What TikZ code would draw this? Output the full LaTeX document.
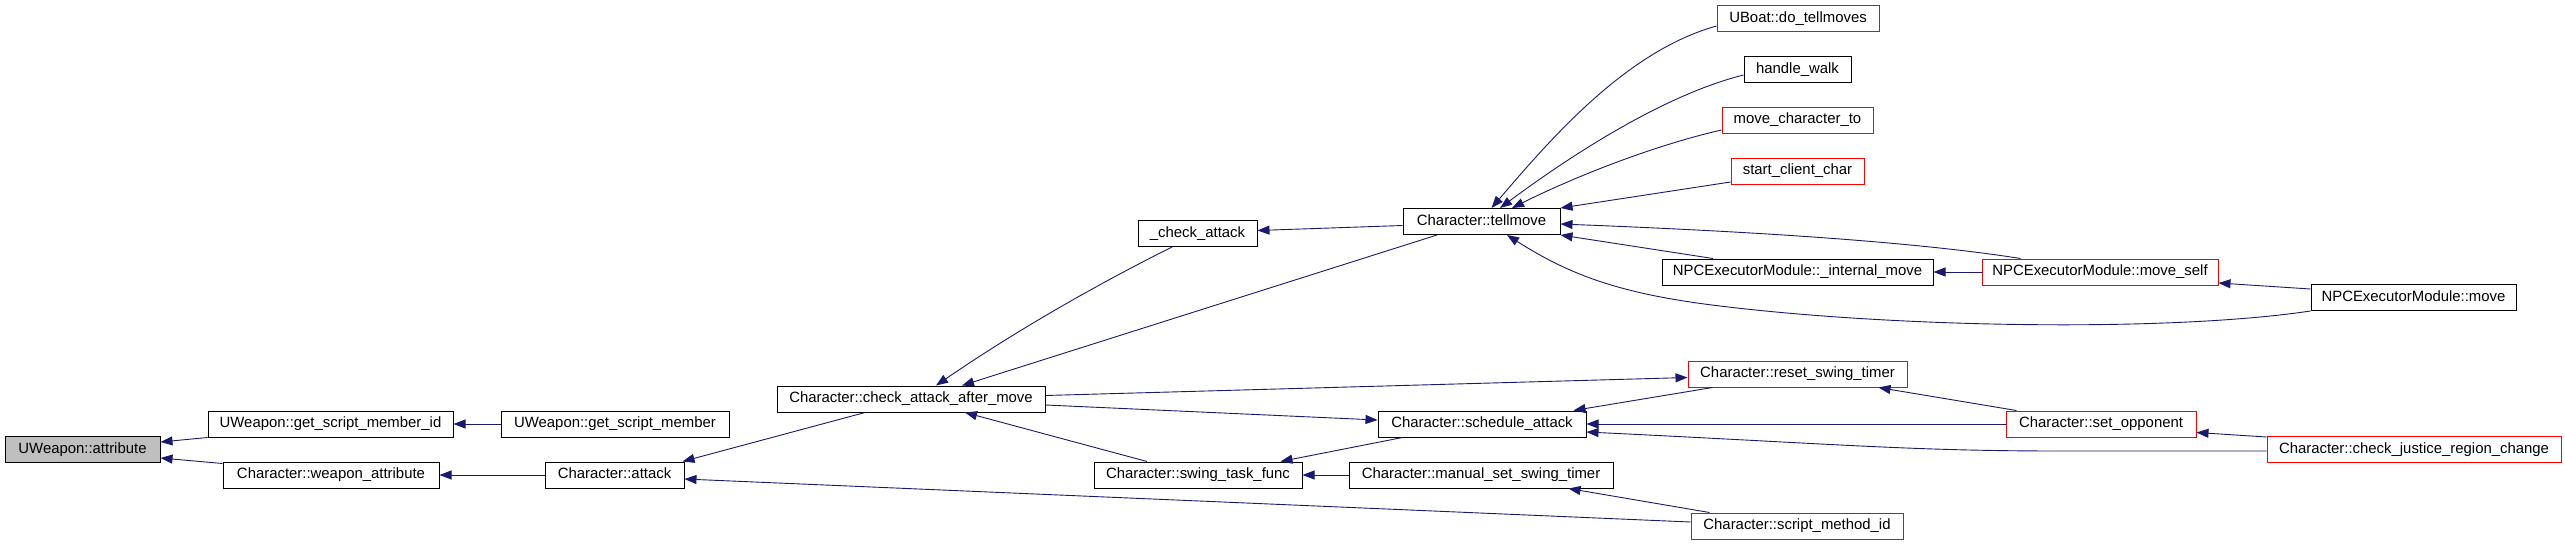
\documentclass[tikz,border=0pt]{standalone}
\usepackage{fontspec}
\setmainfont{Liberation Sans}
\usetikzlibrary{arrows.meta}
\definecolor{edgeblue}{HTML}{191970}
\definecolor{nodegray}{HTML}{BFBFBF}
\begin{document}
\begin{tikzpicture}[x=1pt,y=-1pt,
  nd/.style={draw=black, line width=1pt, minimum height=26pt, inner sep=0pt,
    font=\fontsize{14.9pt}{17pt}\selectfont, text height=10.5pt, text depth=3.2pt},
  rednd/.style={nd, draw=red},
  rootnd/.style={nd, fill=nodegray},
  calls/.style={draw=edgeblue, line width=0.9pt, {Triangle[length=12pt,width=9pt]}-}]
\path[use as bounding box] (0,0) rectangle (2565,544);
\fill[white] (0,0) rectangle (2565,544);
% nodes
\node[rootnd, minimum width=155pt] (attr) at (82.5,449.5) {UWeapon::attribute};
\node[nd, minimum width=245pt] (gsmid) at (330.5,424) {UWeapon::get\_script\_member\_id};
\node[nd, minimum width=228pt] (gsm) at (615,424) {UWeapon::get\_script\_member};
\node[nd, minimum width=216pt] (wattr) at (331,475) {Character::weapon\_attribute};
\node[nd, minimum width=139pt] (attack) at (614.5,475) {Character::attack};
\node[nd, minimum width=268pt] (cam) at (911,399) {Character::check\_attack\_after\_move};
\node[nd, minimum width=119pt] (chk) at (1197.5,233.5) {\_check\_attack};
\node[nd, minimum width=157pt] (tell) at (1481.5,221.5) {Character::tellmove};
\node[nd, minimum width=208pt] (sched) at (1482,424) {Character::schedule\_attack};
\node[nd, minimum width=208pt] (swing) at (1198,475) {Character::swing\_task\_func};
\node[nd, minimum width=264pt] (manual) at (1481,475) {Character::manual\_set\_swing\_timer};
\node[rednd, minimum width=162pt] (uboat) at (1798,18.5) {UBoat::do\_tellmoves};
\node[nd, minimum width=107pt] (walk) at (1797.5,69.5) {handle\_walk};
\node[rednd, minimum width=151pt] (mct) at (1797.5,120) {move\_character\_to};
\node[rednd, minimum width=133pt] (scc) at (1797.5,171) {start\_client\_char};
\node[nd, minimum width=271pt] (imove) at (1797.5,272) {NPCExecutorModule::\_internal\_move};
\node[rednd, minimum width=236pt] (mself) at (2100,272) {NPCExecutorModule::move\_self};
\node[nd, minimum width=205pt] (npcmove) at (2413.5,297.5) {NPCExecutorModule::move};
\node[rednd, minimum width=219pt] (reset) at (1797.5,374) {Character::reset\_swing\_timer};
\node[rednd, minimum width=212pt] (smid) at (1797,526) {Character::script\_method\_id};
\node[rednd, minimum width=190pt] (setopp) at (2101,424) {Character::set\_opponent};
\node[rednd, minimum width=294pt] (cjrc) at (2414,449.5) {Character::check\_justice\_region\_change};
% edges
\draw[calls] ([yshift=-6pt]attr.north east) -- (gsmid.south west);
\draw[calls] ([yshift=5pt]attr.south east) -- ([yshift=-2pt]wattr.north west);
\draw[calls] (gsmid.east) -- (gsm.west);
\draw[calls] (wattr.east) -- (attack.west);
\draw[calls] ([xshift=-2pt]attack.north east) -- ([xshift=-46pt]cam.south);
\draw[calls] ([yshift=-4pt]attack.east) -- ([yshift=4pt]smid.west);
\draw[calls] ([xshift=25pt]cam.north) .. controls +(76,-52) and +(-82,41) .. ([xshift=-25.5pt]chk.south);
\draw[calls] ([xshift=51pt]cam.north) -- ([xshift=-44.5pt]tell.south);
\draw[calls] ([xshift=54pt]cam.south) -- ([xshift=-51pt]swing.north);
\draw[calls] ([yshift=-3.5pt]reset.west) -- ([yshift=3.5pt]cam.east);
\draw[calls] ([yshift=4pt]sched.west) -- ([yshift=-6pt]cam.east);
\draw[calls] ([yshift=3pt]chk.east) -- ([yshift=-4pt]tell.west);
\draw[calls] ([xshift=10pt]tell.north) .. controls +(60,-70) and +(-90,25) .. ([yshift=-7.5pt]uboat.west);
\draw[calls] ([xshift=18.5pt]tell.north) .. controls +(70,-52) and +(-80,20) .. ([yshift=-5.5pt]walk.west);
\draw[calls] ([xshift=30.5pt]tell.north) .. controls +(60,-30) and +(-70,16) .. ([yshift=-10pt]mct.west);
\draw[calls] (tell.north east) -- ([yshift=-11pt]scc.west);
\draw[calls] ([yshift=-2.5pt]tell.east) .. controls +(154,6) and +(-120,-19) .. ([xshift=39pt]mself.north west);
\draw[calls] (tell.south east) -- ([xshift=-84.5pt]imove.north);
\draw[calls] ([xshift=25.5pt]tell.south) .. controls (1570,275) and (1620,294) .. (1720,306)
  .. controls (1900,328) and (2170,332) .. (npcmove.south west);
\draw[calls] (imove.east) -- (mself.west);
\draw[calls] ([yshift=-11pt]mself.east) -- ([yshift=8.5pt]npcmove.west);
\draw[calls] ([xshift=-29pt]reset.south east) -- ([xshift=11pt]setopp.north west);
\draw[calls] ([xshift=-13pt]sched.north east) -- ([xshift=25pt]reset.south west);
\draw[calls] (sched.east) -- (setopp.west);
\draw[calls] ([yshift=-8pt]sched.east) .. controls +(250,12) and +(-150,0) .. (2060,451) -- ([yshift=-1.5pt]cjrc.west);
\draw[calls] ([yshift=-8.5pt]setopp.east) -- ([yshift=-1pt]cjrc.north west);
\draw[calls] ([xshift=-22pt]swing.north east) -- ([xshift=25pt]sched.south west);
\draw[calls] (swing.east) -- (manual.west);
\draw[calls] ([xshift=-45pt]manual.south east) -- ([xshift=19pt]smid.north west);
\end{tikzpicture}
\end{document}
